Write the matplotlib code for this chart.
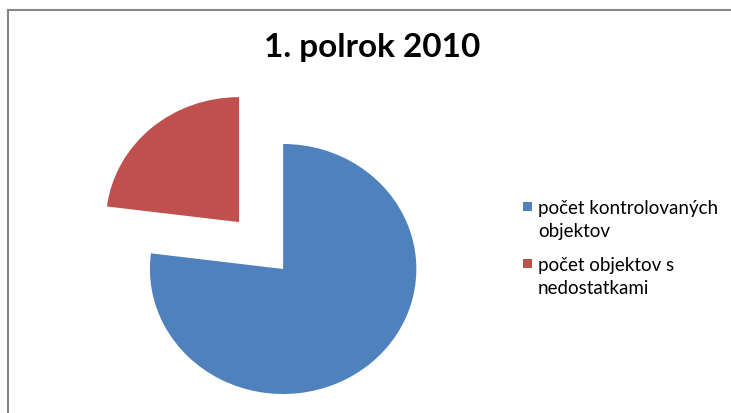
import matplotlib.pyplot as plt
from matplotlib.lines import Line2D
from matplotlib.patches import Rectangle

labels = ["počet kontrolovaných\nobjektov", "počet objektov s\nnedostatkami"]
values = [77, 23]
colors = ["#4F81BD", "#C0504D"]

plt.rcParams['font.family'] = ['Lato', 'DejaVu Sans']

W, H = 731, 414
fig = plt.figure(figsize=(W / 100, H / 100), dpi=100)

# chart frame (only top/left visible, rest cut off)
top = 1 - 10.5 / H
left = 8 / W
fig.lines.append(Line2D([left, 1.01], [top, top], transform=fig.transFigure,
                        color="#868686", lw=1.5))
fig.lines.append(Line2D([left, left], [-0.01, top], transform=fig.transFigure,
                        color="#868686", lw=1.5))

ax = fig.add_axes([70 / W, 19 / H, 373 / W, 312.5 / H])
wedges, _ = ax.pie(values, colors=colors, startangle=90, counterclock=False,
                   explode=[0, 0.5], wedgeprops=dict(linewidth=0))
for w in wedges:
    w.set_clip_on(False)
ax.set_aspect('auto')
ax.set_xlim(-1.6, 1.2)
ax.set_ylim(-1.0, 1.5)

fig.text(372 / W, 1 - 48 / H, "1. polrok 2010", ha="center", va="center",
         fontsize=24, fontweight="bold")

# legend, marker aligned with first text line
for i, (lab, col) in enumerate(zip(labels, colors)):
    yc = 207.5 + i * 57
    fig.patches.append(Rectangle((523 / W, 1 - (yc + 4.5) / H), 9 / W, 9 / H,
                                 transform=fig.transFigure, color=col, lw=0))
    fig.text(538 / W, 1 - (yc - 7.5) / H, lab, ha="left", va="top",
             fontsize=13.5, linespacing=1.4)

fig.savefig("out.png", dpi=100)
